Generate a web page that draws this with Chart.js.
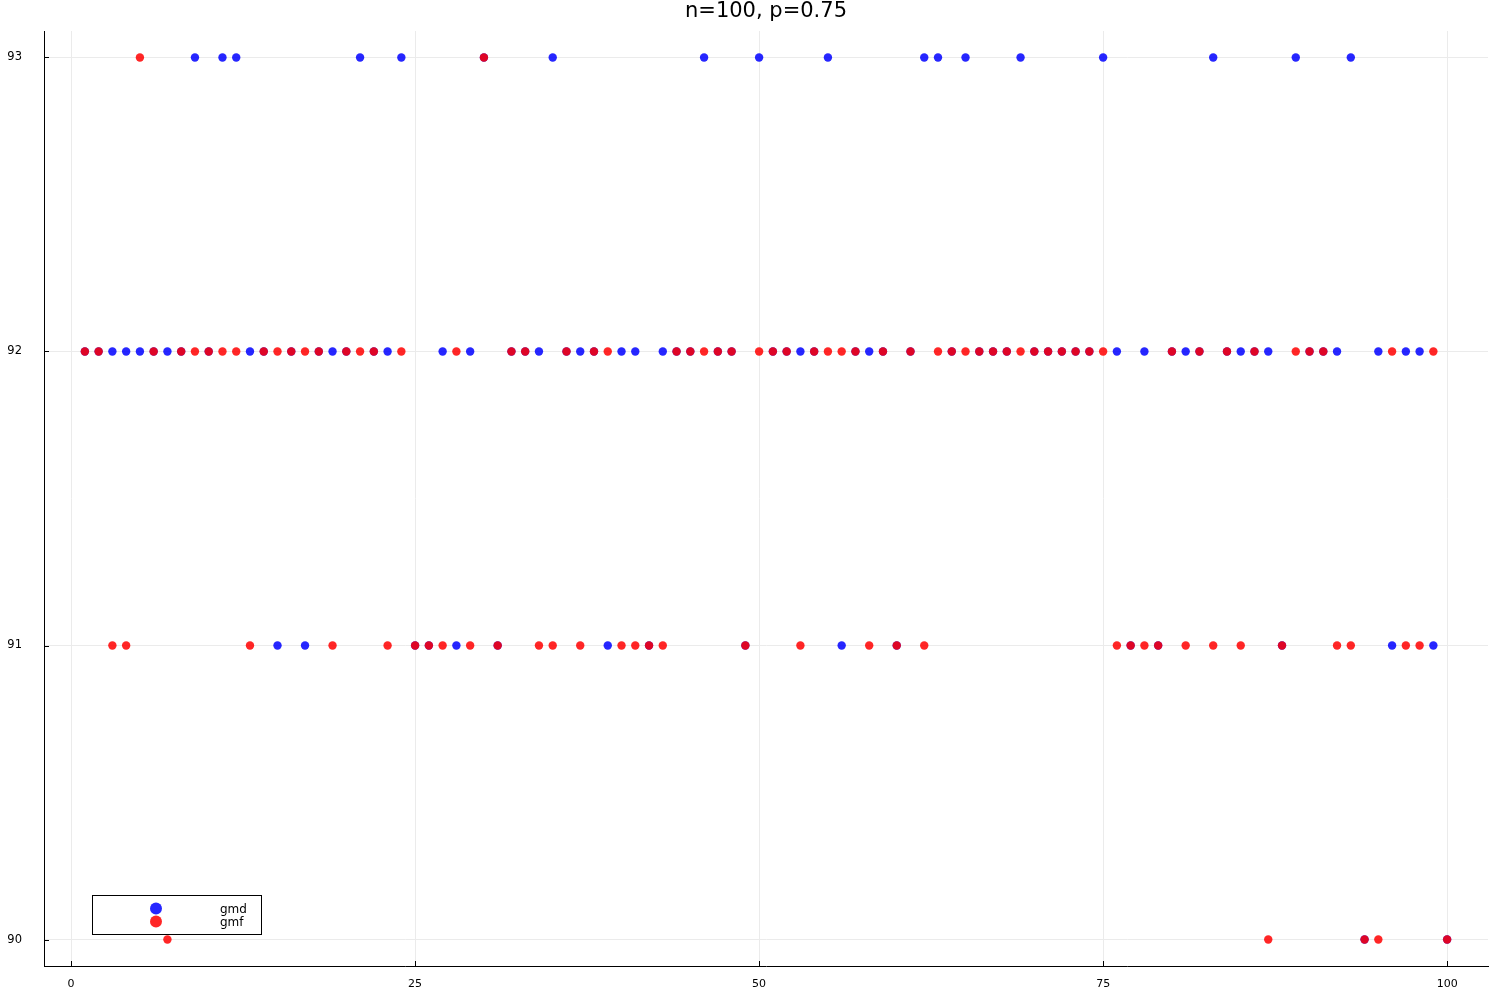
<!DOCTYPE html>
<html>
<head>
<meta charset="utf-8">
<script src="https://cdn.jsdelivr.net/npm/chart.js@4/dist/chart.umd.min.js"></script>
<style>
  html, body { margin: 0; padding: 0; background: #fff; }
  #wrap { width: 1500px; height: 1000px; }
</style>
</head>
<body>
<div id="wrap"><canvas id="c" width="1500" height="1000"></canvas></div>
<script>
const titleText = "n=100, p=0.75";
const seriesNames = ["gmd", "gmf"];
const xValues = [1,2,3,4,5,6,7,8,9,10,11,12,13,14,15,16,17,18,19,20,
  21,22,23,24,25,26,27,28,29,30,31,32,33,34,35,36,37,38,39,40,
  41,42,43,44,45,46,47,48,49,50,51,52,53,54,55,56,57,58,59,60,
  61,62,63,64,65,66,67,68,69,70,71,72,73,74,75,76,77,78,79,80,
  81,82,83,84,85,86,87,88,89,90,91,92,93,94,95,96,97,98,99,100];
const gmd = [92,92,92,92,92,92,92,92,93,92, 93,93,92,92,91,92,91,92,92,92,
  93,92,92,93,91,91,92,91,92,93, 91,92,92,92,93,92,92,92,91,92,
  92,91,92,92,92,93,92,92,91,93, 92,92,92,92,93,91,92,92,92,91,
  92,93,93,92,93,92,92,92,93,92, 92,92,92,92,93,92,91,92,91,92,
  92,92,93,92,92,92,92,91,93,92, 92,92,93,90,92,91,92,92,91,90];
const gmf = [92,92,91,91,93,92,90,92,92,92, 92,92,91,92,92,92,92,92,91,92,
  92,92,91,92,91,91,91,92,91,93, 91,92,92,91,91,92,91,92,92,91,
  91,91,91,92,92,92,92,92,91,92, 92,92,91,92,92,92,92,91,92,91,
  92,91,92,92,92,92,92,92,92,92, 92,92,92,92,92,91,91,91,91,92,
  91,92,91,92,91,92,90,91,92,92, 92,91,91,90,90,92,91,91,92,90];
const xTicks = [0, 25, 50, 75, 100];
const yTicks = [90, 91, 92, 93];

const colors = ["rgba(0,0,255,0.85)", "rgba(255,0,0,0.85)"];
const FONT = "'DejaVu Sans', sans-serif";

function pts(ys) { return xValues.map((x, i) => ({ x: x, y: ys[i] })); }

const extras = {
  id: "extras",
  afterDraw(chart) {
    const ctx = chart.ctx;
    const xs = chart.scales.x, ys = chart.scales.y, a = chart.chartArea;
    ctx.save();
    ctx.strokeStyle = "#000";
    ctx.lineWidth = 1;
    ctx.beginPath();
    xTicks.forEach(v => {
      const px = Math.round(xs.getPixelForValue(v)) + 0.5;
      ctx.moveTo(px, a.bottom); ctx.lineTo(px, a.bottom - 5);
    });
    yTicks.forEach(v => {
      const py = Math.round(ys.getPixelForValue(v)) + 0.5;
      ctx.moveTo(a.left, py); ctx.lineTo(a.left + 5, py);
    });
    ctx.stroke();
    ctx.fillStyle = "#000";
    ctx.font = "21px " + FONT;
    ctx.textAlign = "center";
    ctx.textBaseline = "middle";
    ctx.fillText(titleText, (a.left + a.right) / 2, 12);
    ctx.fillStyle = "#fff";
    ctx.fillRect(92.5, 895.5, 169, 39);
    ctx.strokeStyle = "#000";
    ctx.strokeRect(92.5, 895.5, 169, 39);
    ctx.font = "12px " + FONT;
    ctx.textAlign = "left";
    seriesNames.forEach((name, i) => {
      const y = 908.5 + i * 13;
      ctx.fillStyle = colors[i];
      ctx.beginPath();
      ctx.arc(156, y, 6, 0, Math.PI * 2);
      ctx.fill();
      ctx.fillStyle = "#000";
      ctx.fillText(name, 220, y + 1);
    });
    ctx.restore();
  }
};

new Chart(document.getElementById("c"), {
  type: "scatter",
  data: {
    datasets: [
      { label: seriesNames[0], data: pts(gmd), backgroundColor: colors[0], borderWidth: 0, pointRadius: 4.2, order: 1 },
      { label: seriesNames[1], data: pts(gmf), backgroundColor: colors[1], borderWidth: 0, pointRadius: 4.2, order: 0 }
    ]
  },
  options: {
    responsive: false,
    animation: false,
    devicePixelRatio: 1,
    layout: { padding: { top: 31, right: 12, left: 0, bottom: 0 } },
    plugins: { legend: { display: false }, title: { display: false }, tooltip: { enabled: false } },
    scales: {
      x: {
        type: "linear", min: -1.97, max: 102.97,
        afterBuildTicks: s => { s.ticks = xTicks.map(v => ({ value: v })); },
        afterFit: s => { s.height = 34; },
        grid: { color: "#ebebeb", drawTicks: false },
        border: { display: true, color: "#000", width: 1 },
        ticks: { padding: 12, color: "#000", font: { size: 11, family: FONT }, callback: v => String(v), maxRotation: 0 }
      },
      y: {
        type: "linear", min: 89.91, max: 93.09,
        afterBuildTicks: s => { s.ticks = yTicks.map(v => ({ value: v })); },
        afterFit: s => { s.width = 44; },
        grid: { color: "#ebebeb", drawTicks: false },
        border: { display: true, color: "#000", width: 1 },
        ticks: { padding: 22, color: "#000", font: { size: 11.5, family: FONT }, callback: v => String(v) }
      }
    }
  },
  plugins: [extras]
});
</script>
</body>
</html>
